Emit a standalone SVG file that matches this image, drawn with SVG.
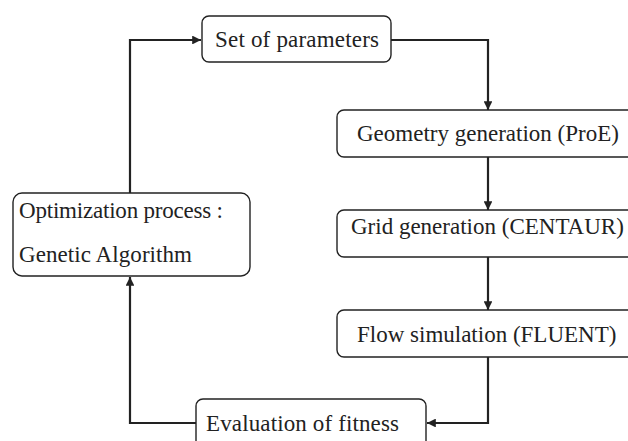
<svg xmlns="http://www.w3.org/2000/svg" width="628" height="441" viewBox="0 0 628 441">
<style>
.box{fill:#fff;stroke:#222;stroke-width:1.4}
.t{font-family:"Liberation Serif","Times New Roman",serif;font-size:23px;fill:#222}
.c{fill:none;stroke:#222;stroke-width:2.2}
</style>
<defs>
<marker id="ah" viewBox="0 0 10 10" refX="10" refY="5" markerWidth="4" markerHeight="4" orient="auto" markerUnits="strokeWidth">
<path d="M0,0 L10,5 L0,10 z" fill="#222"/>
</marker>
</defs>
<rect width="628" height="441" fill="#fff"/>
<g id="connectors">
<path class="c" d="M130,193 V40 H201" marker-end="url(#ah)"/>
<path class="c" d="M391,40 H488 V110" marker-end="url(#ah)"/>
<path class="c" d="M488,157 V210" marker-end="url(#ah)"/>
<path class="c" d="M488,257 V310" marker-end="url(#ah)"/>
<path class="c" d="M488,357 V423 H427" marker-end="url(#ah)"/>
<path class="c" d="M196,423 H130 V277" marker-end="url(#ah)"/>
</g>
<g id="set">
<rect class="box" x="202" y="16" width="189" height="46" rx="7"/>
<text class="t" x="215" y="47" textLength="164">Set of parameters</text>
</g>
<g id="geometry">
<rect class="box" x="337" y="110" width="300" height="47" rx="7"/>
<text class="t" x="357" y="141">Geometry generation (ProE)</text>
</g>
<g id="grid">
<rect class="box" x="337" y="210" width="300" height="47" rx="7"/>
<text class="t" x="351" y="234">Grid generation (CENTAUR)</text>
</g>
<g id="flow">
<rect class="box" x="337" y="310" width="300" height="47" rx="7"/>
<text class="t" x="357" y="342">Flow simulation  (FLUENT)</text>
</g>
<g id="optimization">
<rect class="box" x="13" y="193" width="237" height="83" rx="9"/>
<text class="t" x="19" y="218" textLength="204">Optimization process :</text>
<text class="t" x="19" y="262" textLength="173">Genetic Algorithm</text>
</g>
<g id="evaluation">
<rect class="box" x="196" y="399" width="230" height="60" rx="7"/>
<text class="t" x="206" y="431" textLength="193">Evaluation of fitness</text>
</g>
</svg>
